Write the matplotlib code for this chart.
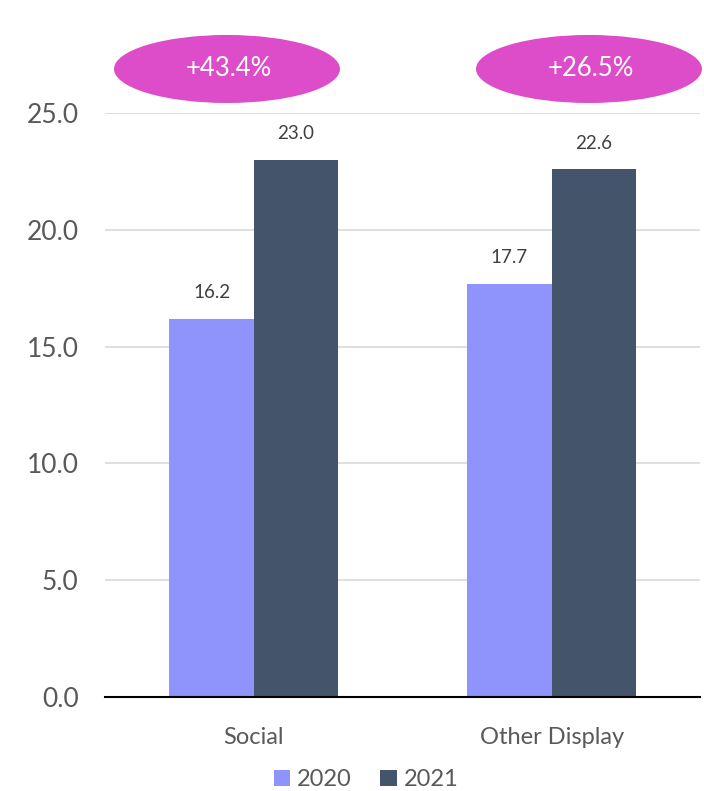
import matplotlib
matplotlib.use('Agg')
import matplotlib.pyplot as plt
import numpy as np
from matplotlib.patches import Ellipse

plt.rcParams['font.family'] = ['Lato', 'DejaVu Sans']

categories = ['Social', 'Other Display']
years = ['2020', '2021']
vals_2020 = [16.2, 17.7]
vals_2021 = [23.0, 22.6]
growth_labels = ['+43.4%', '+26.5%']
yticks = [0, 5, 10, 15, 20, 25]

c2020 = '#8f94fd'
c2021 = '#44546a'
pink = '#dd4cc9'
grey = '#595959'

fig = plt.figure(figsize=(7.04, 7.91), dpi=100)
ax = fig.add_axes([0.149, 0.119, 0.846, 0.738])

x = np.arange(len(categories))
w = 0.284
b1 = ax.bar(x - w/2, vals_2020, w, color=c2020, label=years[0], zorder=3)
b2 = ax.bar(x + w/2, vals_2021, w, color=c2021, label=years[1], zorder=3)

for bars in (b1, b2):
    for bar in bars:
        h = bar.get_height()
        ax.text(bar.get_x() + bar.get_width()/2, h + 0.75, '%.1f' % h,
                ha='center', va='bottom', fontsize=13.5, color='#404040')

ax.set_xlim(-0.5, 1.5)
ax.set_ylim(0, 25)
ax.set_yticks(yticks)
ax.set_yticklabels(['%.1f' % t for t in yticks])
ax.set_xticks(x)
ax.set_xticklabels(categories)
ax.tick_params(axis='y', length=0, pad=19, labelsize=19, labelcolor=grey)
ax.tick_params(axis='x', length=0, pad=22, labelsize=17, labelcolor=grey)
ax.yaxis.grid(True, color='#d9d9d9', lw=1.2, zorder=0)
for s in ['top', 'right', 'left']:
    ax.spines[s].set_visible(False)
ax.spines['bottom'].set_color('black')
ax.spines['bottom'].set_linewidth(1.5)
ax.spines['bottom'].set_zorder(4)

# growth bubbles above the bars
centers = [0.3224, 0.8366]
for cx, lab in zip(centers, growth_labels):
    e = Ellipse((cx, 0.9128), 0.321, 0.086, transform=fig.transFigure,
                facecolor=pink, edgecolor='none')
    fig.add_artist(e)
    fig.text(cx + 0.003, 0.9128, lab, ha='center', va='center', color='white',
             fontsize=18.5)

ax.legend(loc='center', ncol=2, frameon=False, fontsize=17, handlelength=0.7,
          handleheight=0.7, handletextpad=0.3, columnspacing=1.2, labelcolor=grey)
leg = ax.get_legend()
leg.set_bbox_to_anchor((0.52, 0.014), transform=fig.transFigure)

fig.savefig('out.png', dpi=100)
